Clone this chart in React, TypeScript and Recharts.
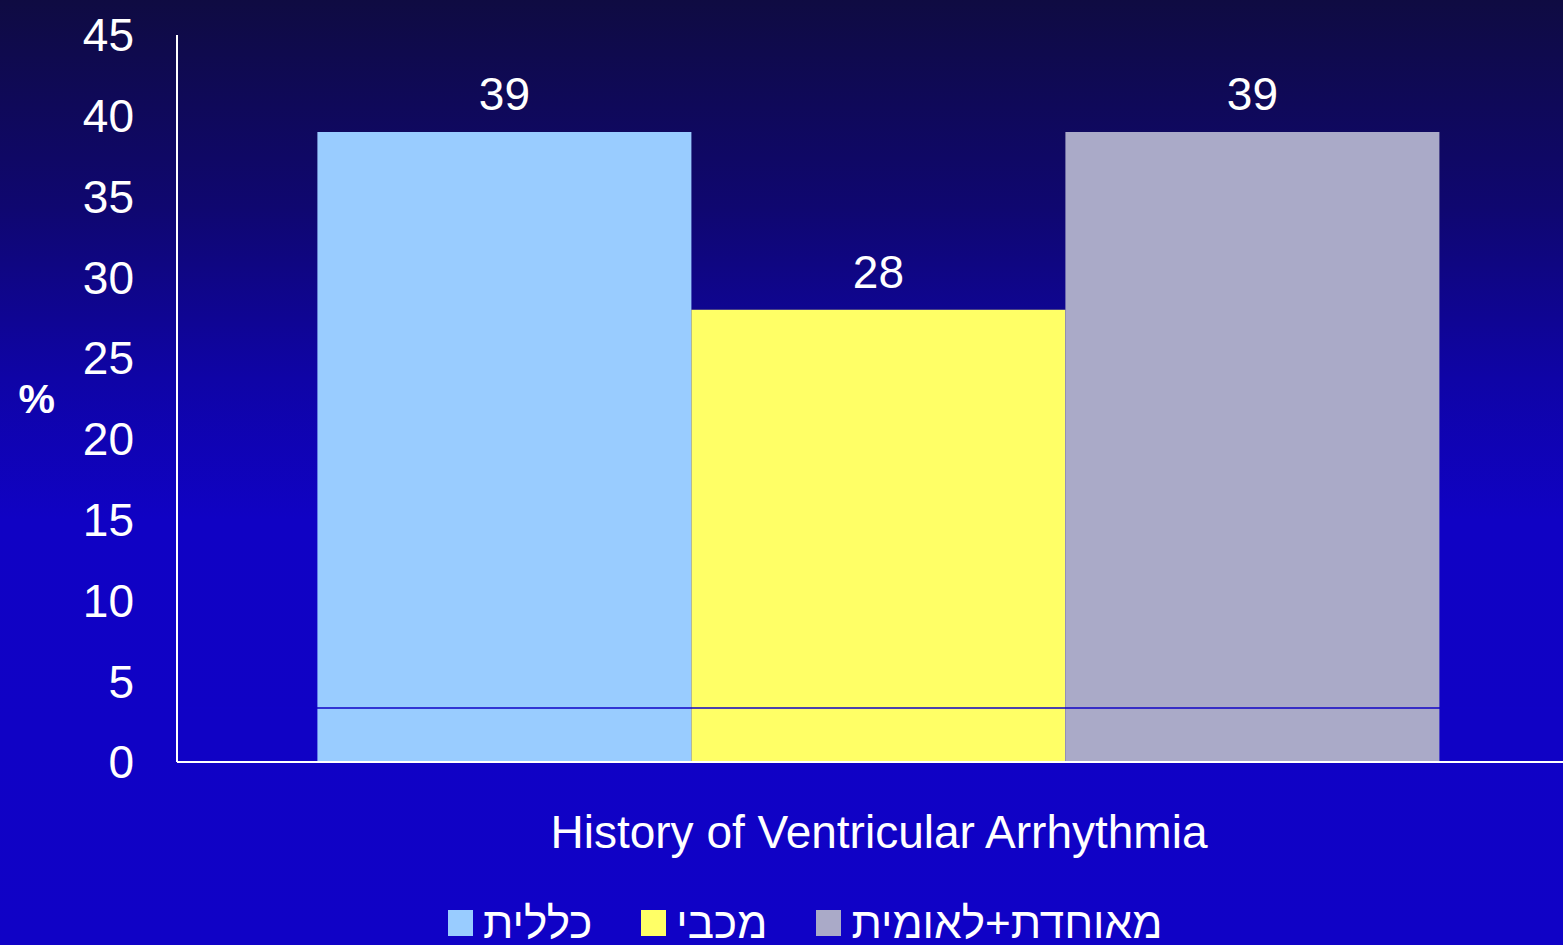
import React from 'react';
import { BarChart, Bar, XAxis, YAxis, LabelList, ReferenceLine } from 'recharts';

const categories = ['History of Ventricular Arrhythmia'];
const seriesNames = ['כללית', 'מכבי', 'מאוחדת+לאומית'];
const seriesValues = [[39], [28], [39]];
const seriesColors = ['#99ccff', '#ffff66', '#aaaac8'];
const yTicks = [0, 5, 10, 15, 20, 25, 30, 35, 40, 45];
const baselineMark = 3.35;

const data = categories.map((c, i) => {
  const row: Record<string, string | number> = { category: c };
  seriesNames.forEach((s, j) => {
    row['s' + j] = seriesValues[j][i];
  });
  return row;
});

const FONT = '"Liberation Sans", Arial, "DejaVu Sans", sans-serif';

export default function App() {
  return (
    <div
      style={{
        position: 'absolute',
        left: 0,
        top: 0,
        width: 1563,
        height: 945,
        overflow: 'hidden',
        fontFamily: FONT,
        background:
          'linear-gradient(to bottom, #0f0b42 0%, #0f0770 22%, #0f04a6 40%, #1002c4 55%, #1002c6 100%)',
      }}
    >
      <BarChart
        width={1581}
        height={945}
        data={data}
        margin={{ top: 35, right: 0, left: 77, bottom: 83 }}
        barCategoryGap="10%"
        barGap={0}
      >
        <XAxis
          dataKey="category"
          height={100}
          axisLine={{ stroke: '#ffffff', strokeWidth: 2 }}
          tickLine={false}
          tickSize={0}
          tickMargin={53}
          tick={{ fill: '#ffffff', fontSize: 46, fontFamily: FONT }}
        />
        <YAxis
          width={100}
          domain={[0, 45]}
          ticks={yTicks}
          interval={0}
          axisLine={{ stroke: '#ffffff', strokeWidth: 2 }}
          tickLine={false}
          tickSize={0}
          tickMargin={43}
          tick={{ fill: '#ffffff', fontSize: 46, fontFamily: FONT }}
          label={{
            value: '%',
            position: 'left',
            offset: 22,
            fill: '#ffffff',
            fontSize: 41,
            fontWeight: 'bold',
            fontFamily: FONT,
          }}
        />
        {seriesNames.map((s, j) => (
          <Bar key={s} dataKey={'s' + j} name={s} fill={seriesColors[j]} isAnimationActive={false}>
            <LabelList
              dataKey={'s' + j}
              position="top"
              offset={22}
              fill="#ffffff"
              fontSize={46}
              fontFamily={FONT}
            />
          </Bar>
        ))}
        <ReferenceLine y={baselineMark} stroke="#1003c6" strokeWidth={1.5} />
      </BarChart>
      <div
        style={{
          position: 'absolute',
          left: 448,
          top: 897,
          display: 'flex',
          flexDirection: 'row',
          alignItems: 'center',
          whiteSpace: 'nowrap',
        }}
      >
        {seriesNames.map((s, j) => (
          <div
            key={s}
            style={{ display: 'flex', alignItems: 'center', marginRight: 49 }}
          >
            <span
              style={{
                display: 'inline-block',
                width: 25,
                height: 26,
                background: seriesColors[j],
                marginRight: 10,
              }}
            />
            <span
              dir="rtl"
              style={{ color: '#ffffff', fontSize: 44, lineHeight: '52px', fontFamily: FONT }}
            >
              {s}
            </span>
          </div>
        ))}
      </div>
    </div>
  );
}
